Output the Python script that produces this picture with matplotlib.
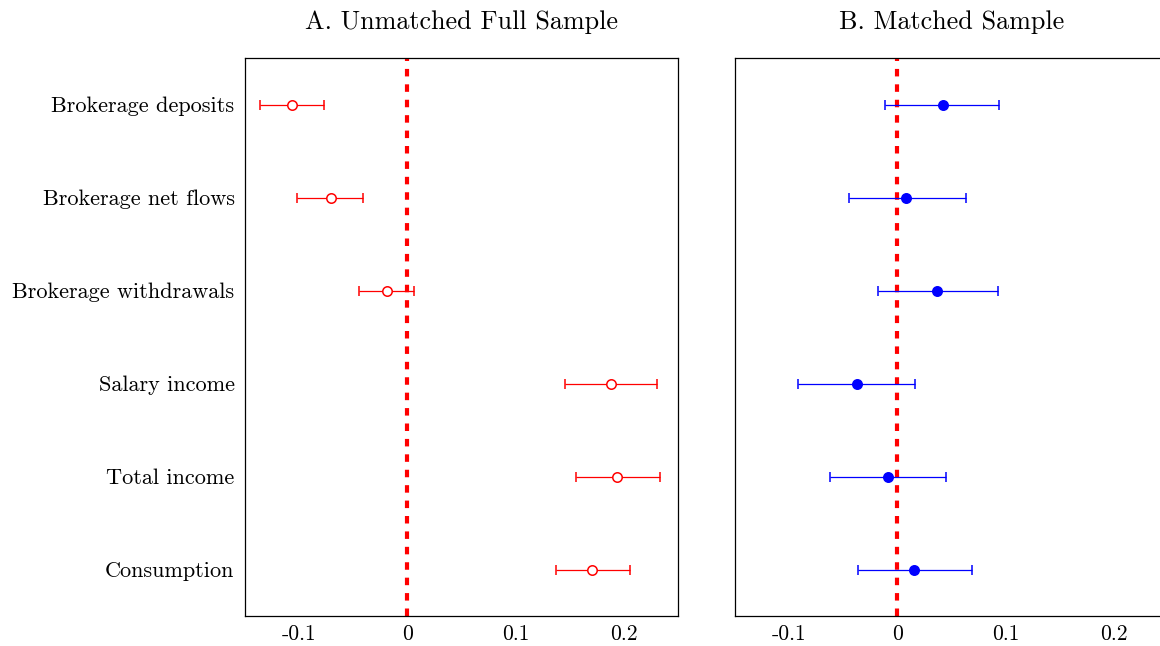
import numpy as np
import matplotlib
matplotlib.use("Agg")
import matplotlib.pyplot as plt

plt.rcParams['font.family'] = 'serif'
plt.rcParams['font.serif'] = ['cmr10', 'DejaVu Serif']
plt.rcParams['mathtext.fontset'] = 'cm'

# outcome variables, top to bottom
labels = ['Brokerage deposits', 'Brokerage net flows', 'Brokerage withdrawals',
          'Salary income', 'Total income', 'Consumption']

# A. unmatched full sample: estimate and 95% CI
est_a = [-0.107, -0.071, -0.0185, 0.188, 0.194, 0.171]
lo_a = [-0.136, -0.102, -0.045, 0.146, 0.156, 0.137]
hi_a = [-0.077, -0.041, 0.0065, 0.231, 0.233, 0.206]

# B. matched sample
est_b = [0.0417, 0.0083, 0.037, -0.037, -0.0083, 0.0157]
lo_b = [-0.011, -0.045, -0.0176, -0.0917, -0.062, -0.036]
hi_b = [0.094, 0.063, 0.0926, 0.0167, 0.045, 0.069]

xticks = [-0.1, 0, 0.1, 0.2]
xticklabels = ['-0.1', '0', '0.1', '0.2']
titles = ['A. Unmatched Full Sample', 'B. Matched Sample']

fig = plt.figure(figsize=(11.6, 6.46), dpi=100)
ax1 = fig.add_axes([0.2112, 0.0464, 0.3733, 0.8638])
ax2 = fig.add_axes([0.6336, 0.0464, 0.3733, 0.8638])

y = np.arange(len(labels))

panels = [
    (ax1, est_a, lo_a, hi_a, 'red', 'white'),
    (ax2, est_b, lo_b, hi_b, 'blue', 'blue'),
]
for i, (ax, est, lo, hi, col, face) in enumerate(panels):
    est = np.array(est)
    err = [est - np.array(lo), np.array(hi) - est]
    ax.axvline(0, color='red', lw=3, ls=(0, (1.8, 1.9)), zorder=1)
    ax.errorbar(est, y, xerr=err, fmt='o', color=col, mfc=face, mec=col,
                ms=6.8, mew=1.1, elinewidth=0.9, capsize=3.3, capthick=0.9, zorder=3)
    ax.set_xlim(-0.15, 0.25)
    ax.set_ylim(len(labels) - 0.5, -0.5)
    ax.set_xticks(xticks)
    ax.set_xticklabels(xticklabels, fontsize=15.5)
    ax.tick_params(axis='x', length=0, pad=6)
    ax.tick_params(axis='y', length=0, pad=7.5)
    ax.set_title(titles[i], fontsize=18.8, pad=21)
    for s in ax.spines.values():
        s.set_linewidth(0.9)
    if i == 0:
        ax.set_yticks(y)
        ax.set_yticklabels(labels, fontsize=16)
    else:
        ax.set_yticks([])

fig.savefig('out.png', dpi=100)
